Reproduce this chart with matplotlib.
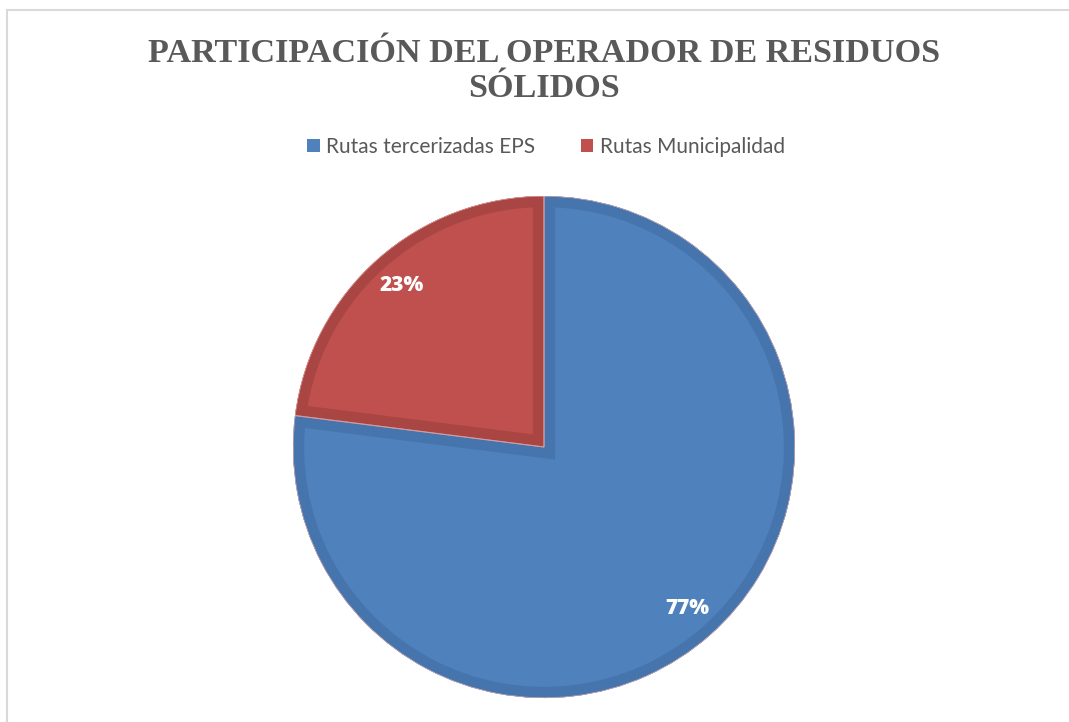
import matplotlib.pyplot as plt
from matplotlib.patches import Patch, Rectangle, Wedge

categories = ["Rutas tercerizadas EPS", "Rutas Municipalidad"]
values = [77, 23]
colors = ["#4F81BD", "#C0504D"]
edge_colors = ["#4674AC", "#A94644"]
title_lines = ["PARTICIPACIÓN DEL OPERADOR DE RESIDUOS", "SÓLIDOS"]

W, H = 1069, 722
fig = plt.figure(figsize=(W / 100, H / 100), dpi=100)
ax = fig.add_axes([0, 0, 1, 1])

wedges, _, autotexts = ax.pie(
    values, colors=colors, startangle=90, counterclock=False,
    center=(544, H - 447), radius=251, autopct="%d%%", pctdistance=0.86,
    frame=True,
    textprops=dict(color="white", fontsize=15, fontweight="heavy",
                   family=["Open Sans", "DejaVu Sans"]),
    wedgeprops=dict(linewidth=0))

ax.set_xlim(0, W)
ax.set_ylim(0, H)
ax.set_aspect("equal")
ax.axis("off")

# chart frame (runs off the right and bottom)
ax.add_patch(Rectangle((7, -20), W + 20, H - 10 + 20, fill=False,
                       edgecolor="#D9D9D9", linewidth=1.5))

# darker inner rim on each slice, clipped to the slice
for w, ec in zip(wedges, edge_colors):
    rim = Wedge(w.center, w.r, w.theta1, w.theta2, fill=False,
                edgecolor=ec, linewidth=16, zorder=w.get_zorder() + 0.1)
    ax.add_patch(rim)
    rim.set_clip_path(w)
    for t in autotexts:
        t.set_zorder(w.get_zorder() + 1)
# thin light separator between slices
for w in wedges:
    ax.add_patch(Wedge(w.center, w.r, w.theta1, w.theta2, fill=False,
                       edgecolor="#E8B0AE", linewidth=0.8,
                       zorder=w.get_zorder() + 0.2))
    ax.patches[-1].set_clip_path(w)

for txt, base in zip(title_lines, [62, 97]):
    fig.text(544 / W, 1 - base / H, txt, ha="center", va="baseline",
             fontsize=24.6, fontweight="bold", color="#595959",
             family=["Liberation Serif", "DejaVu Serif"])

handles = [Patch(facecolor=c, edgecolor="none") for c in colors]
fig.legend(handles, categories, loc="center", bbox_to_anchor=(546 / W, 1 - 147 / H),
           ncol=2, frameon=False, handlelength=0.6, handleheight=0.6,
           handletextpad=0.3, columnspacing=2.2,
           prop=dict(family=["Lato", "DejaVu Sans"], size=15),
           labelcolor="#595959")

fig.savefig("out.png", dpi=100)
